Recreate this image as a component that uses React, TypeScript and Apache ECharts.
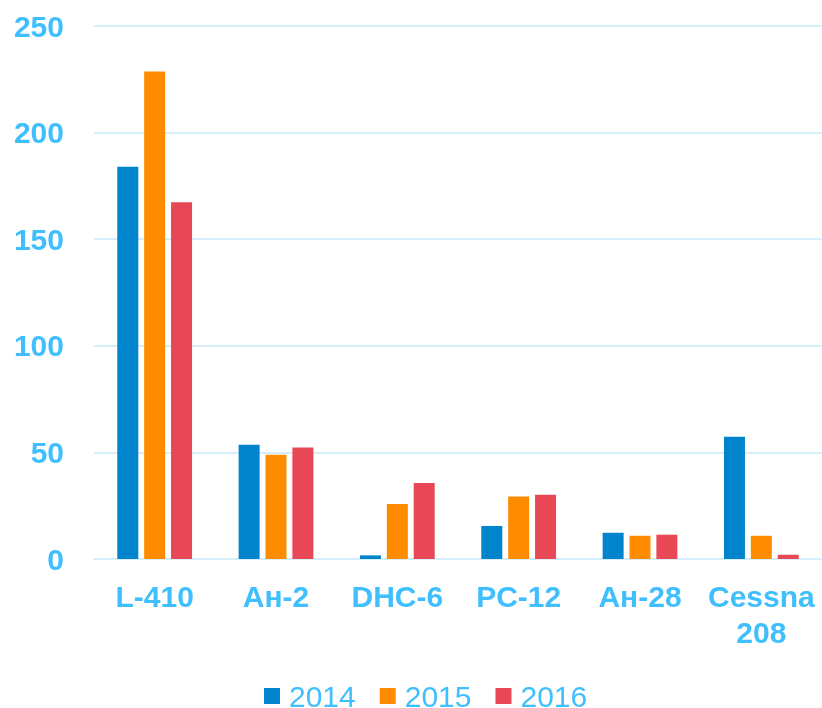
import React, { useEffect, useRef } from "react";
import * as echarts from "echarts";

const categories = ["L-410", "Ан-2", "DHC-6", "PC-12", "Ан-28", "Cessna\n208"];
const seriesNames = ["2014", "2015", "2016"];
const values2014 = [184, 53.6, 1.7, 15.5, 12.3, 57.3];
const values2015 = [228.6, 48.9, 25.8, 29.3, 10.9, 10.9];
const values2016 = [167.3, 52.3, 35.6, 30.1, 11.4, 2.0];
const colors = ["#0084CC", "#FF8C00", "#E84855"];

const LABEL = "#40BFFF";
const GRID = "#D6EEFA";
const FONT = "'Liberation Sans', Arial, sans-serif";

export default function App() {
  const ref = useRef<HTMLDivElement>(null);
  useEffect(() => {
    if (!ref.current) return;
    const chart = echarts.init(ref.current, undefined, { renderer: "svg" });
    const data = [values2014, values2015, values2016];
    chart.setOption({
      animation: false,
      color: colors,
      grid: { left: 94, right: -2, top: 26, bottom: 149, containLabel: false },
      legend: {
        data: seriesNames,
        top: 681,
        left: 264,
        padding: 0,
        itemWidth: 16,
        itemHeight: 16,
        itemGap: 24,
        icon: "rect",
        textStyle: {
          color: LABEL,
          fontSize: 30,
          lineHeight: 26,
          fontFamily: FONT,
          padding: [0, 0, 0, 4],
        },
      },
      xAxis: {
        type: "category",
        data: categories,
        axisLine: { show: true, lineStyle: { color: GRID, width: 2 } },
        axisTick: { show: false },
        axisLabel: {
          color: LABEL,
          fontSize: 30,
          fontWeight: "bold",
          fontFamily: FONT,
          lineHeight: 36,
          margin: 19,
          interval: 0,
        },
      },
      yAxis: {
        type: "value",
        min: 0,
        max: 250,
        interval: 50,
        axisLine: { show: false },
        axisTick: { show: false },
        splitLine: { lineStyle: { color: GRID, width: 2 } },
        axisLabel: {
          color: LABEL,
          fontSize: 30,
          fontWeight: "bold",
          fontFamily: FONT,
          margin: 30,
        },
      },
      series: seriesNames.map((name, i) => ({
        name,
        type: "bar",
        data: data[i],
        barWidth: 21,
        barGap: "28%",
        itemStyle: { color: colors[i] },
      })),
    });
    return () => chart.dispose();
  }, []);
  return (
    <div
      ref={ref}
      style={{ position: "fixed", left: 0, top: 0, width: 822, height: 708 }}
    />
  );
}
